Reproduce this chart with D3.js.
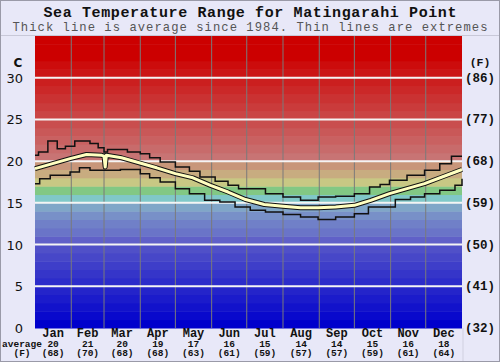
<!DOCTYPE html>
<html>
<head>
<meta charset="utf-8">
<script src="https://cdn.jsdelivr.net/npm/d3@7"></script>
<style>
  body { margin: 0; background: #e8e8f8; }
  svg { display: block; }
</style>
</head>
<body>
<svg id="chart" width="500" height="362"></svg>
<script>
// ---- data ----
const months = ['Jan','Feb','Mar','Apr','May','Jun','Jul','Aug','Sep','Oct','Nov','Dec']
const monthStart = [0,31,59,90,120,151,181,212,243,273,304,334]
const monthAvgC = [20,21,20,19,17,16,15,14,14,15,16,18]
const monthAvgF = [68,70,68,68,63,61,59,57,57,59,61,64]

const avgDays = [0,15,30,44,57,59,60,61,74,89,104,120,135,150,165,180,196,212,227,242,257,273,287,303,318,333,348,365]
const avgTemps = [19.1,19.7,20.3,20.8,20.7,20.6,19.3,20.7,20.4,19.8,19.2,18.5,18.0,17.1,16.3,15.4,14.8,14.6,14.4,14.4,14.5,14.7,15.3,16.1,16.7,17.3,18.1,19.0]

const maxDays = [0,3,11,19,26,34,47,54,59,62,79,90,98,107,120,132,141,154,165,174,197,212,227,242,257,273,286,295,303,318,333,346,356,365]
const maxTemps = [20.7,21.1,22.4,21.5,21.8,22.4,22.1,21.6,21.1,21.4,21.1,20.9,20.4,19.9,19.3,18.8,18.1,17.6,17.1,16.7,16.1,15.7,15.3,15.7,15.8,16.1,16.9,17.2,17.7,18.3,18.9,19.7,20.6,20.6]

const minDays = [0,4,13,30,38,47,73,90,98,107,120,132,145,158,171,184,197,212,227,242,257,273,285,308,321,333,346,359,365]
const minTemps = [17.3,17.9,18.3,18.7,19.2,18.9,19.0,18.5,18.0,17.5,16.7,16.1,15.3,15.1,14.5,14.1,13.9,13.6,13.3,13.0,13.3,13.7,14.5,15.4,15.7,16.1,16.5,17.1,17.9]

const cTicks = [0,5,10,15,20,25,30]

// ---- layout ----
const svg = d3.select('#chart')
const W = 500, H = 362
const plotL = 35, plotR = 462, plotT = 36, plotB = 328

const x = d3.scaleLinear().domain([0, 365]).range([plotL, plotR])
const y = d3.scaleLinear().domain([0, 35]).range([plotB, plotT])

svg.append('rect').attr('width', W).attr('height', H).attr('fill', '#e8e8f8')

// colour bands, one per degree
const bandColor = t => {
  if (t >= 32) return '#cc0000'
  if (t >= 20) return d3.interpolateRgb('#c87474', '#cc0202')((t - 20) / 12)
  const fixed = {19:'#c8967a', 18:'#c8ac80', 17:'#c8c884', 16:'#82c884', 15:'#80c8c8', 14:'#80a6c8', 13:'#7890c8', 12:'#7080c8', 11:'#6a74c8', 10:'#6060c8'}
  if (fixed[t]) return fixed[t]
  return d3.interpolateRgb('#0000cc', '#5050c8')(t / 9)
}
const bands = d3.range(0, 35)
svg.append('g').selectAll('rect')
  .data(bands)
  .join('rect')
  .attr('x', plotL)
  .attr('width', plotR - plotL)
  .attr('y', d => y(d + 1))
  .attr('height', d => y(d) - y(d + 1) + 0.5)
  .attr('fill', d => bandColor(d))

// grid
svg.append('g').selectAll('line')
  .data(monthStart.slice(1))
  .join('line')
  .attr('x1', d => x(d)).attr('x2', d => x(d))
  .attr('y1', plotT).attr('y2', plotB)
  .attr('stroke', '#7a7a7a').attr('stroke-width', 1)

svg.append('g').selectAll('line')
  .data(cTicks.filter(d => d > 0))
  .join('line')
  .attr('x1', plotL).attr('x2', plotR)
  .attr('y1', d => y(d)).attr('y2', d => y(d))
  .attr('stroke', '#f4f4f4').attr('stroke-width', 2)

// lines
const stepLine = d3.line().x(d => x(d[0])).y(d => y(d[1])).curve(d3.curveStepAfter)
const avgLine = d3.line().x(d => x(d[0])).y(d => y(d[1]))

const maxData = d3.zip(maxDays, maxTemps)
const minData = d3.zip(minDays, minTemps)
const avgData = d3.zip(avgDays, avgTemps)

const lines = svg.append('g').attr('fill', 'none')
lines.append('path').attr('d', stepLine(maxData)).attr('stroke', '#111').attr('stroke-width', 1.5)
lines.append('path').attr('d', stepLine(minData)).attr('stroke', '#111').attr('stroke-width', 1.5)
lines.append('path').attr('d', avgLine(avgData)).attr('stroke', '#111').attr('stroke-width', 5).attr('stroke-linejoin', 'round')
lines.append('path').attr('d', avgLine(avgData)).attr('stroke', '#ffffc0').attr('stroke-width', 3).attr('stroke-linejoin', 'round')

// separators
svg.append('line').attr('x1', 0).attr('x2', W).attr('y1', 35.5).attr('y2', 35.5).attr('stroke', '#c8c8d8')
svg.append('line').attr('x1', plotR + 1).attr('x2', plotR + 1).attr('y1', plotB).attr('y2', H).attr('stroke', '#d0d0e0')
svg.append('rect').attr('x', 0.5).attr('y', 0.5).attr('width', W - 1).attr('height', H - 1)
  .attr('fill', 'none').attr('stroke', '#9a9aa8')

// titles
const mono = '"Liberation Mono", "DejaVu Sans Mono", monospace'
svg.append('text').attr('x', W / 2).attr('y', 17).attr('text-anchor', 'middle')
  .attr('font-family', mono).attr('font-weight', 'bold').attr('font-size', 15)
  .attr('textLength', 413).attr('fill', '#111')
  .text('Sea Temperature Range for Matingarahi Point')
svg.append('text').attr('x', W / 2).attr('y', 31).attr('text-anchor', 'middle')
  .attr('font-family', mono).attr('font-size', 12.2)
  .attr('textLength', 475).attr('fill', '#555')
  .text('Thick line is average since 1984. Thin lines are extremes')

// left axis (C)
const sans = '"DejaVu Sans", Verdana, sans-serif'
svg.append('g').selectAll('text')
  .data(cTicks)
  .join('text')
  .attr('x', 23).attr('y', d => y(d) + 5)
  .attr('text-anchor', 'end')
  .attr('font-family', sans).attr('font-size', 13).attr('fill', '#111')
  .text(d => d)
svg.append('text').attr('x', 18).attr('y', 67).attr('text-anchor', 'middle')
  .attr('font-family', sans).attr('font-weight', 'bold').attr('font-size', 12).attr('fill', '#111').text('C')

// right axis (F)
svg.append('g').selectAll('text')
  .data(cTicks)
  .join('text')
  .attr('x', 480).attr('y', d => y(d) + 4)
  .attr('text-anchor', 'middle')
  .attr('font-family', mono).attr('font-weight', 'bold').attr('font-size', 12.5).attr('fill', '#111')
  .text(d => '(' + Math.round(d * 9 / 5 + 32) + ')')
svg.append('text').attr('x', 480).attr('y', 66).attr('text-anchor', 'middle')
  .attr('font-family', mono).attr('font-weight', 'bold').attr('font-size', 11.5).attr('fill', '#111').text('(F)')

// month labels
const mid = i => x((monthStart[i] + (i < 11 ? monthStart[i + 1] : 365)) / 2)
const ml = svg.append('g').attr('font-family', mono).attr('font-weight', 'bold').attr('fill', '#111').attr('text-anchor', 'middle')
ml.selectAll('.m').data(months).join('text').attr('class', 'm')
  .attr('x', (d, i) => mid(i)).attr('y', 337).attr('font-size', 12).text(d => d)
ml.selectAll('.c').data(monthAvgC).join('text').attr('class', 'c')
  .attr('x', (d, i) => mid(i)).attr('y', 346.5).attr('font-size', 9.5).text(d => d)
ml.selectAll('.f').data(monthAvgF).join('text').attr('class', 'f')
  .attr('x', (d, i) => mid(i)).attr('y', 356).attr('font-size', 9.5).text(d => '(' + d + ')')

svg.append('text').attr('x', 22).attr('y', 346.5).attr('text-anchor', 'middle')
  .attr('font-family', mono).attr('font-weight', 'bold').attr('font-size', 9.5).attr('fill', '#111').text('average')
svg.append('text').attr('x', 22).attr('y', 356).attr('text-anchor', 'middle')
  .attr('font-family', mono).attr('font-weight', 'bold').attr('font-size', 9.5).attr('fill', '#111').text('(F)')
</script>
</body>
</html>
